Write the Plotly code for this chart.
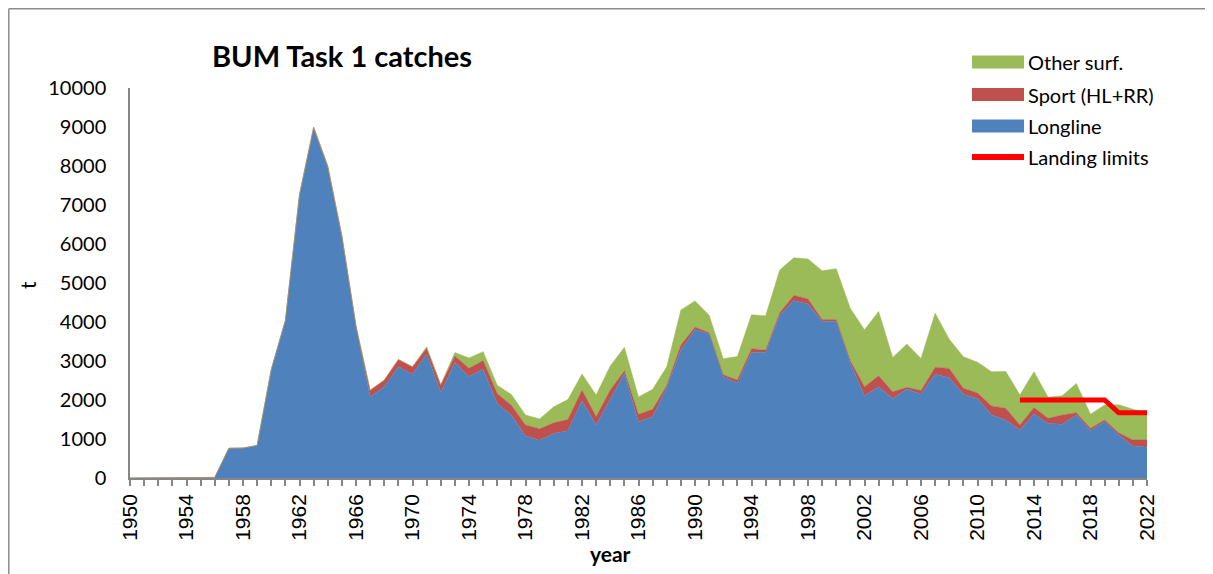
import plotly.graph_objects as go

years = list(range(1950, 2023))

longline = [0, 0, 0, 0, 0, 0, 15, 760, 765, 830,
            2770, 4030, 7250, 8950, 7960, 6180, 3870, 2080, 2340, 2850,
            2660, 3180, 2190, 2960, 2600, 2790, 1910, 1610, 1080, 970,
            1140, 1210, 1980, 1360, 2040, 2680, 1440, 1570, 2320, 3280,
            3810, 3690, 2600, 2430, 3220, 3220, 4180, 4550, 4460, 4020,
            4020, 2940, 2110, 2340, 2040, 2280, 2150, 2660, 2570, 2150,
            2030, 1615, 1490, 1230, 1640, 1400, 1380, 1615, 1215, 1445,
            1100, 820, 790]

sport = [0, 0, 0, 0, 0, 0, 0, 5, 5, 5,
         10, 15, 20, 50, 40, 30, 30, 170, 170, 190,
         190, 145, 195, 170, 215, 220, 255, 255, 280, 290,
         275, 290, 275, 215, 215, 70, 195, 190, 60, 130,
         60, 35, 50, 85, 95, 60, 60, 135, 130, 45,
         45, 65, 230, 280, 170, 45, 95, 180, 240, 150,
         150, 230, 300, 130, 170, 130, 235, 60, 60, 45,
         60, 155, 185]

other_surf = [0, 0, 0, 0, 0, 0, 0, 0, 0, 0,
              0, 0, 0, 0, 0, 0, 0, 0, 0, 0,
              0, 40, 10, 85, 265, 230, 215, 275, 255, 255,
              410, 510, 410, 555, 615, 600, 445, 515, 470, 900,
              670, 450, 410, 600, 870, 880, 1095, 960, 1025, 1250,
              1300, 1340, 1460, 1650, 880, 1110, 820, 1385, 750, 810,
              790, 880, 940, 770, 915, 540, 495, 750, 360, 385,
              720, 790, 690]

limit_years = list(range(2013, 2023))
landing_limits = [2000, 2000, 2000, 2000, 2000, 2000, 2000, 1670, 1670, 1670]

C_LL = "#4F81BD"
C_SP = "#C0504D"
C_OS = "#9BBB59"
C_LIM = "#FF0000"

fig = go.Figure()
fig.add_trace(go.Scatter(x=years, y=longline, name="Longline", stackgroup="one",
                         mode="lines", line=dict(color=C_LL, width=0.5),
                         fillcolor=C_LL, showlegend=False))
fig.add_trace(go.Scatter(x=years, y=sport, name="Sport (HL+RR)", stackgroup="one",
                         mode="lines", line=dict(color=C_SP, width=0.5),
                         fillcolor=C_SP, showlegend=False))
fig.add_trace(go.Scatter(x=years, y=other_surf, name="Other surf.", stackgroup="one",
                         mode="lines", line=dict(color=C_OS, width=0.5),
                         fillcolor=C_OS, showlegend=False))
fig.add_trace(go.Scatter(x=limit_years, y=landing_limits, name="Landing limits",
                         mode="lines", line=dict(color=C_LIM, width=5),
                         showlegend=False))

# page body adds an 8px offset; target plot area on screen: x 130..1147, y 88..478
OFF = 8
SX0, SX1, SY0, SY1 = 130, 1147, 88, 478
W, H = 1213, 574
L = SX0 - OFF
T = SY0 - OFF
PW, PH = SX1 - SX0, SY1 - SY0
R = W - L - PW
B = H - T - PH


def px(x):
    return (x - SX0) / PW


def py(y):
    return (SY1 - y) / PH


shapes = []
annotations = []

# outer chart border: only the top and left edges are visible in the picture
border = dict(color="#8C8C8C", width=1.5)
shapes.append(dict(type="line", xref="paper", yref="paper",
                   x0=px(OFF + 0.8), x1=px(1500), y0=py(OFF + 0.8), y1=py(OFF + 0.8),
                   line=border, layer="below"))
shapes.append(dict(type="line", xref="paper", yref="paper",
                   x0=px(OFF + 0.8), x1=px(OFF + 0.8), y0=py(OFF + 0.8), y1=py(900),
                   line=border, layer="below"))

# manual legend
legend_items = [("Other surf.", C_OS, "box", 62),
                ("Sport (HL+RR)", C_SP, "box", 94.5),
                ("Longline", C_LL, "box", 126),
                ("Landing limits", C_LIM, "line", 157)]
for label, col, kind, yc in legend_items:
    if kind == "box":
        shapes.append(dict(type="rect", xref="paper", yref="paper",
                           x0=px(972), x1=px(1024), y0=py(yc + 6.5), y1=py(yc - 6.5),
                           line=dict(width=0), fillcolor=col))
    else:
        shapes.append(dict(type="line", xref="paper", yref="paper",
                           x0=px(972), x1=px(1024), y0=py(yc), y1=py(yc),
                           line=dict(color=col, width=6)))
    annotations.append(dict(text=label, xref="paper", yref="paper",
                            x=px(1026), y=py(yc), xanchor="left", yanchor="middle",
                            showarrow=False,
                            font=dict(family="Lato", size=20, color="#000000")))

annotations.append(dict(text="<b>BUM Task 1 catches</b>", xref="paper", yref="paper",
                        x=px(342), y=py(55), xanchor="center", yanchor="middle",
                        showarrow=False,
                        font=dict(family="Lato", size=29, color="#000000")))
annotations.append(dict(text="t", xref="paper", yref="paper",
                        x=px(27), y=py(285), xanchor="center", yanchor="middle",
                        textangle=-90, showarrow=False,
                        font=dict(family="Lato", size=21, color="#000000")))
annotations.append(dict(text="<b>year</b>", xref="paper", yref="paper",
                        x=px(610), y=py(553), xanchor="center", yanchor="middle",
                        showarrow=False,
                        font=dict(family="Lato", size=21, color="#000000")))

fig.update_layout(
    width=W, height=H,
    margin=dict(l=L, r=R, t=T, b=B, autoexpand=False),
    paper_bgcolor="white", plot_bgcolor="white",
    shapes=shapes, annotations=annotations,
    showlegend=False,
)
fig.update_xaxes(range=[1950, 2022], dtick=4, tick0=1950, tickangle=-90,
                 ticks="outside", ticklen=6, tickcolor="#868686", tickwidth=1.5,
                 minor=dict(dtick=1, ticks="outside", ticklen=6,
                            tickcolor="#868686", tickwidth=1.5),
                 showline=True, linecolor="#868686", linewidth=1.5,
                 showgrid=False, zeroline=False, automargin=False,
                 tickfont=dict(family="Liberation Sans", size=21, color="#000000"))
fig.update_yaxes(range=[0, 10000], dtick=1000, tickformat="d", ticks="",
                 showline=True, linecolor="#868686", linewidth=1.5,
                 showgrid=False, zeroline=False, ticklabelstandoff=18,
                 automargin=False,
                 tickfont=dict(family="Lato", size=20, color="#000000"))

fig.write_html("out.html")
